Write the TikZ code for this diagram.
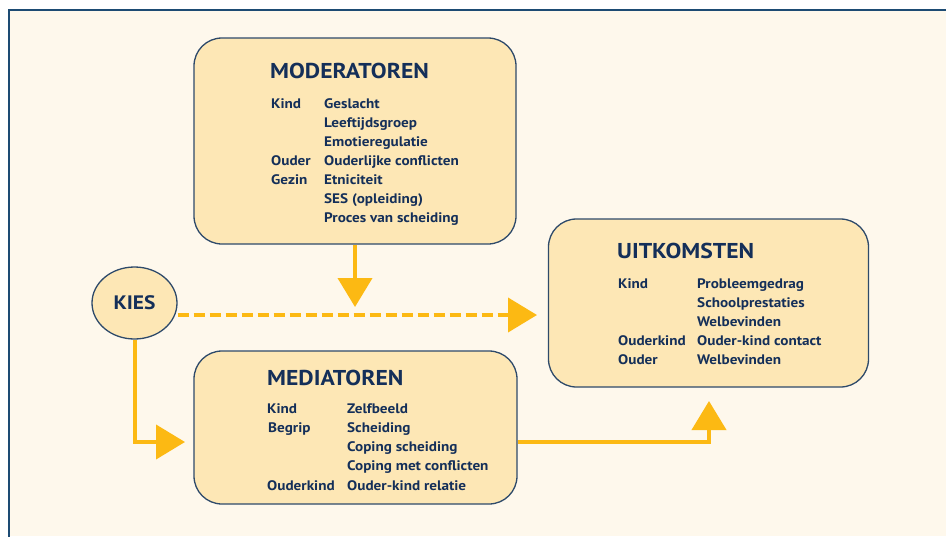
\documentclass[tikz,border=0pt]{standalone}
\usepackage{fontspec}
\setmainfont{PT Sans}[FakeStretch=1.1]
\usetikzlibrary{arrows.meta,shapes.geometric}
\definecolor{bgcream}{HTML}{FEF8EC}
\definecolor{boxfill}{HTML}{FDE7B5}
\definecolor{boxline}{HTML}{2E4A6A}
\definecolor{navy}{HTML}{142F59}
\definecolor{frameblue}{HTML}{1D4B73}
\definecolor{arrowyel}{HTML}{FCB913}
\tikzset{
  panel/.style={draw=boxline, line width=1.3pt, fill=boxfill, rounded corners=28pt},
  ttl/.style={anchor=base west, inner sep=0pt, text=navy, font=\bfseries\fontsize{21.5}{24}\selectfont},
  itm/.style={anchor=base west, inner sep=0pt, text=navy, font=\bfseries\fontsize{13.8}{16}\selectfont},
  flow/.style={draw=arrowyel, line width=4pt, -{Triangle[length=29pt,width=34pt]}},
}
\begin{document}
\begin{tikzpicture}[x=1pt,y=-1pt]
\useasboundingbox (0,0) rectangle (946,536);
\fill[white] (0,0) rectangle (946,536);
\fill[bgcream] (9,10) rectangle (946,536);
\draw[frameblue, line width=2pt] (9,537) -- (9,10) -- (947,10);

% boxes
\node[panel, minimum width=322pt, minimum height=206pt] (moder) at (355,141) {};
\node[panel, minimum width=320pt, minimum height=168pt] (uitk) at (708.5,303) {};
\node[panel, minimum width=323pt, minimum height=153pt] (medi) at (355.5,427.5) {};
\node[ellipse, draw=boxline, line width=1.3pt, fill=boxfill, minimum width=85pt, minimum height=72pt, inner sep=0pt,
      text=navy, font=\bfseries\fontsize{19.5}{22}\selectfont] (kies) at (134.5,303) {KIES};

% MODERATOREN
\node[ttl] (mt) at (270,78) {MODERATOREN};
\node[itm] (m1a) at (271,108) {Kind};
\node[itm] (m1b) at (324,108) {Geslacht};
\node[itm] (m2b) at (324,127.1) {Leeftijdsgroep};
\node[itm] (m3b) at (324,146.2) {Emotieregulatie};
\node[itm] (m4a) at (271,165.3) {Ouder};
\node[itm] (m4b) at (324,165.3) {Ouderlijke conflicten};
\node[itm] (m5a) at (271,184.4) {Gezin};
\node[itm] (m5b) at (324,184.4) {Etniciteit};
\node[itm] (m6b) at (324,203.5) {SES (opleiding)};
\node[itm] (m7b) at (324,222.6) {Proces van scheiding};

% UITKOMSTEN
\node[ttl] (ut) at (617,258) {UITKOMSTEN};
\node[itm] (u1a) at (618,288) {Kind};
\node[itm] (u1b) at (697,288) {Probleemgedrag};
\node[itm] (u2b) at (697,307.2) {Schoolprestaties};
\node[itm] (u3b) at (697,326.4) {Welbevinden};
\node[itm] (u4a) at (618,345.6) {Ouderkind};
\node[itm] (u4b) at (697,345.6) {Ouder-kind contact};
\node[itm] (u5a) at (618,364.8) {Ouder};
\node[itm] (u5b) at (697,364.8) {Welbevinden};

% MEDIATOREN
\node[ttl] (mdt) at (267,385) {MEDIATOREN};
\node[itm] (d1a) at (267,413) {Kind};
\node[itm] (d1b) at (347,413) {Zelfbeeld};
\node[itm] (d2a) at (268,432.3) {Begrip};
\node[itm] (d2b) at (347,432.3) {Scheiding};
\node[itm] (d3b) at (347,451.6) {Coping scheiding};
\node[itm] (d4b) at (347,470.9) {Coping met conflicten};
\node[itm] (d5a) at (267,490.2) {Ouderkind};
\node[itm] (d5b) at (347,490.2) {Ouder-kind relatie};

% connectors
\coordinate (tipA) at (355,307);
\coordinate (tipB) at (537,315);
\coordinate (tipC) at (185,442);
\coordinate (tipD) at (709,401);
\draw[flow] (moder.south -| tipA) -- (tipA);
\draw[flow, dash pattern=on 11pt off 5pt] (kies.east |- tipB) -- (tipB);
\draw[flow] (kies.south) |- (tipC);
\draw[flow] (medi.east |- tipC) -| (tipD);
\end{tikzpicture}
\end{document}
